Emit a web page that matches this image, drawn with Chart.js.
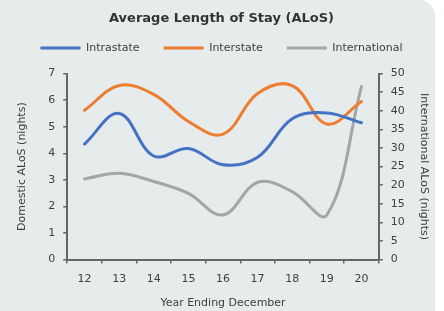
<!DOCTYPE html>
<html>
<head>
<meta charset="utf-8">
<script src="https://cdn.jsdelivr.net/npm/chart.js"></script>
<style>
  html, body { margin: 0; padding: 0; background: #ffffff; }
  #card { width: 435px; height: 311px; background: #e6ebeb; border-top-right-radius: 16px; position: relative; }
</style>
</head>
<body>
<div id="card"><canvas id="myChart" width="435" height="311"></canvas></div>
<script>
const years = ['12', '13', '14', '15', '16', '17', '18', '19', '20'];
const intrastate = [4.35, 5.5, 3.9, 4.18, 3.57, 3.85, 5.3, 5.52, 5.15];
const interstate = [5.62, 6.55, 6.22, 5.2, 4.72, 6.25, 6.55, 5.1, 5.95];
const international = [21.7, 23.2, 21.0, 17.8, 12.0, 20.8, 18.3, 12.0, 46.5];

const fontFamily = "'DejaVu Sans', sans-serif";
const textColor = '#404040';
const axisColor = '#666666';

Chart.defaults.font.family = fontFamily;
Chart.defaults.font.size = 11;
Chart.defaults.color = textColor;

// give the legend box some extra room underneath, like the original
const legendSpace = {
    id: 'legendSpace',
    afterInit(chart) {
        const fit = chart.legend.fit;
        chart.legend.fit = function () {
            fit.bind(chart.legend)();
            this.height += 10;
        };
    }
};

const ctx = document.getElementById('myChart').getContext('2d');

new Chart(ctx, {
    type: 'line',
    data: {
        labels: years,
        datasets: [{
            label: 'Intrastate',
            data: intrastate,
            borderColor: '#4472c4',
            backgroundColor: '#4472c4',
            borderWidth: 3,
            yAxisID: 'y'
        }, {
            label: 'Interstate',
            data: interstate,
            borderColor: '#ed7d31',
            backgroundColor: '#ed7d31',
            borderWidth: 3,
            yAxisID: 'y'
        }, {
            label: 'International',
            data: international,
            borderColor: '#a5a5a5',
            backgroundColor: '#a5a5a5',
            borderWidth: 3,
            yAxisID: 'y1'
        }]
    },
    plugins: [legendSpace],
    options: {
        responsive: false,
        animation: false,
        elements: {
            line: { tension: 0.38, borderCapStyle: 'round' },
            point: { radius: 0 }
        },
        layout: { padding: { left: 10, right: 2, top: 6, bottom: 0 } },
        plugins: {
            title: {
                display: true,
                text: 'Average Length of Stay (ALoS)',
                color: '#333333',
                font: { size: 13, weight: 'bold' },
                padding: { top: 5, bottom: -8 }
            },
            legend: {
                labels: {
                    usePointStyle: true,
                    pointStyle: 'line',
                    pointStyleWidth: 40,
                    padding: 24,
                    font: { size: 11 }
                }
            },
            tooltip: { enabled: false }
        },
        scales: {
            x: {
                offset: true,
                grid: { display: true, drawOnChartArea: false, offset: true, color: axisColor, tickLength: 4, lineWidth: 1.5 },
                border: { color: axisColor, width: 2 },
                ticks: { padding: 9 },
                title: { display: true, text: 'Year Ending December', padding: { top: 2, bottom: 1 } }
            },
            y: {
                position: 'left',
                min: 0,
                max: 7,
                grid: { drawOnChartArea: false, color: axisColor, tickLength: 4, lineWidth: 1.5 },
                border: { color: axisColor, width: 2 },
                ticks: { stepSize: 1, padding: 8 },
                title: { display: true, text: 'Domestic ALoS (nights)', padding: { top: 6, bottom: 11 } }
            },
            y1: {
                position: 'right',
                min: 0,
                max: 50,
                grid: { drawOnChartArea: false, color: axisColor, tickLength: 4, lineWidth: 1.5 },
                border: { color: axisColor, width: 2 },
                ticks: { stepSize: 5, padding: 8 },
                title: { display: true, text: 'International ALoS (nights)', padding: { top: 3, bottom: 4 } }
            }
        }
    }
});
</script>
</body>
</html>
